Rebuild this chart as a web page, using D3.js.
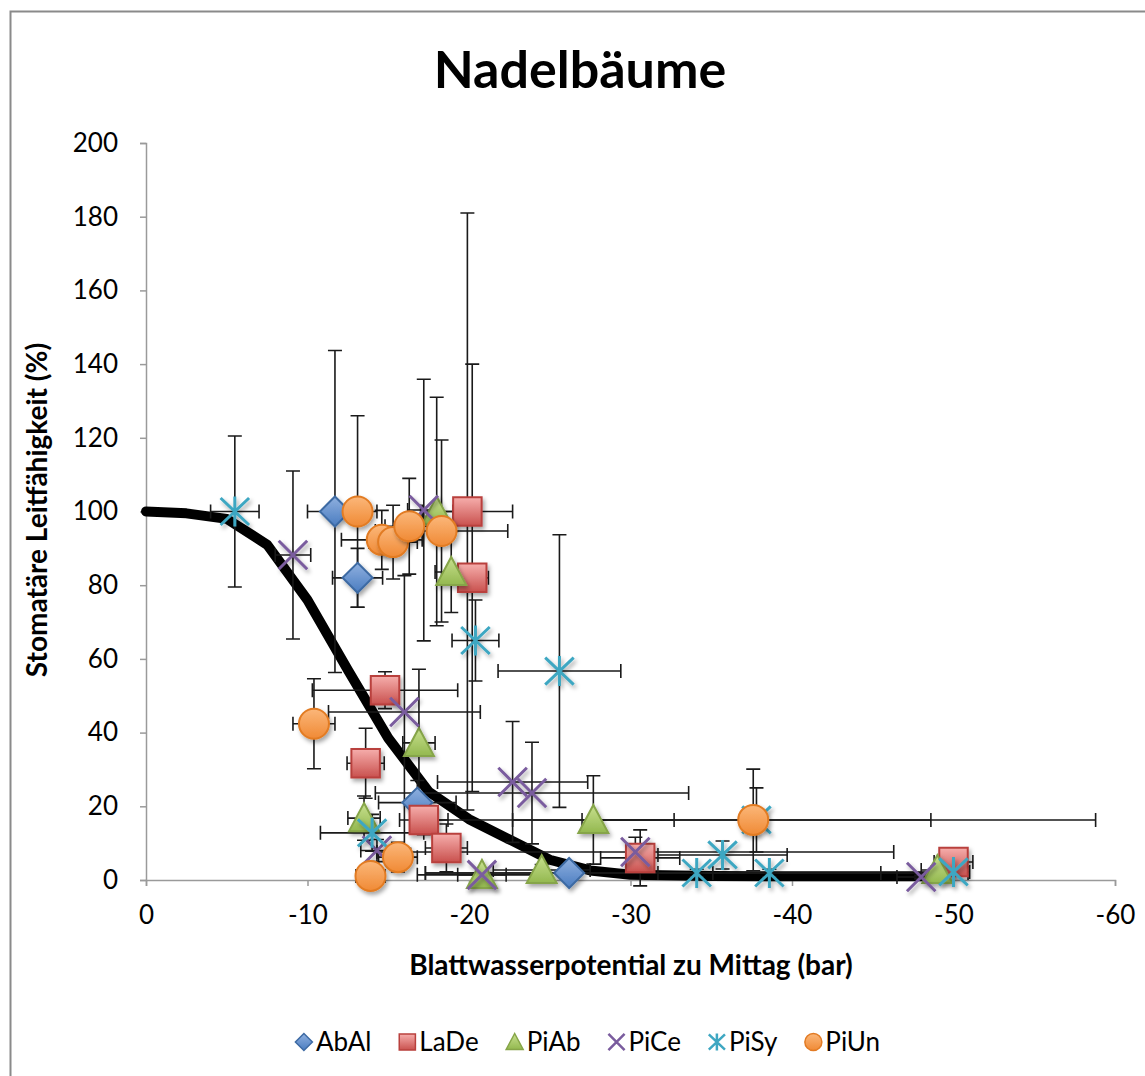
<!DOCTYPE html>
<html>
<head>
<meta charset="utf-8">
<script src="https://cdn.jsdelivr.net/npm/d3@7"></script>
<style>
  body { margin: 0; background: #fff; }
  text { font-family: Lato, "Open Sans", sans-serif; fill: #000; }
</style>
</head>
<body>
<svg id="chart" width="1145" height="1076"></svg>
<script>
// Werte: [x, y, Fehler x, Fehler y]
const abal = [[-11.7, 100, 1.7, 43.7], [-13.1, 82, 1.55, 8], [-16.8, 21, 2.4, 6], [-26.2, 1.9, 8.9, 1.5]];
const lade = [[-19.9, 100, 2.8, 81], [-20.2, 82, 1, 58], [-14.8, 51.5, 4.5, 5], [-13.6, 31.7, 1.15, 9.5],
              [-17.2, 16.3, 1.5, 4], [-18.6, 8.7, 1.3, 6.5], [-30.6, 6, 2.45, 7.6], [-50, 4.9, 1.2, 1]];
const piab = [[-18, 100, 1, 31], [-18.9, 83.6, 1, 11], [-16.9, 37.2, 1, 20], [-13.5, 16.8, 1, 6],
              [-20.8, 1.4, 4, 1], [-24.5, 2.7, 3, 1.5], [-27.7, 16.3, 5, 12], [-49, 2.7, 1, 1]];
const pice = [[-9.1, 88.2, 1.1, 22.8], [-17.2, 100.4, 1, 35.5], [-16, 45.6, 4.7, 37], [-22.7, 26.6, 4.65, 16.4],
              [-23.9, 23.6, 9.7, 13.8], [-20.8, 1.4, 1.5, 1], [-30.3, 7.6, 16, 4], [-48, 0.8, 1.5, 0.5], [-14.3, 8, 1, 3]];
const pisy = [[-5.5, 100, 1.5, 20.5], [-20.4, 65, 1.45, 11], [-25.6, 56.7, 3.8, 37], [-14, 12.8, 3.2, 5],
              [-34.1, 1.9, 16.8, 1], [-35.7, 6.8, 4, 3.8], [-38.6, 1.9, 6.9, 1], [-37.8, 16.3, 10.8, 8.7], [-50, 2.2, 1, 1]];
const piun = [[-13.1, 100, 1.2, 26], [-14.6, 92.3, 2.5, 8], [-15.3, 91.7, 1.5, 10], [-16.3, 96, 1.5, 13],
              [-18.3, 94.7, 4.1, 24.7], [-10.4, 42.4, 1.3, 12.2], [-15.6, 6.2, 1.2, 4], [-13.9, 1.1, 0.9, 1], [-37.6, 16.3, 21.2, 13.8]];

// Ausgleichskurve
const kurveX = [0, -2.5, -5, -7.5, -10, -12.5, -15, -17.5, -20, -22.5, -25, -27.5, -30, -35, -40, -49];
const kurveY = [100, 99.5, 98, 91, 76, 57, 38.5, 24, 16.5, 11, 5.5, 2.6, 1.4, 1.1, 1, 1];

const xTicks = [0, -10, -20, -30, -40, -50, -60];
const yTicks = [0, 20, 40, 60, 80, 100, 120, 140, 160, 180, 200];

const serien = [
  { name: "AbAl", data: abal, form: "diamond", fill: "url(#gBlau)", stroke: "#3d6aa3" },
  { name: "LaDe", data: lade, form: "square", fill: "url(#gRot)", stroke: "#b9413e" },
  { name: "PiAb", data: piab, form: "triangle", fill: "url(#gGruen)", stroke: "#86a548" },
  { name: "PiCe", data: pice, form: "x", fill: "none", stroke: "#7a5c9e" },
  { name: "PiSy", data: pisy, form: "star", fill: "none", stroke: "#3ea7c2" },
  { name: "PiUn", data: piun, form: "circle", fill: "url(#gOrange)", stroke: "#e27b24" }
];

const svg = d3.select("#chart");
const x = d3.scaleLinear().domain([0, -60]).range([146, 1115]);
const y = d3.scaleLinear().domain([0, 200]).range([880, 143]);

// Verläufe und Schatten
const defs = svg.append("defs");
function verlauf(id, hell, dunkel) {
  const g = defs.append("linearGradient").attr("id", id).attr("x1", 0).attr("y1", 0).attr("x2", 0).attr("y2", 1);
  g.append("stop").attr("offset", "0%").attr("stop-color", hell);
  g.append("stop").attr("offset", "100%").attr("stop-color", dunkel);
}
verlauf("gBlau", "#8fb0df", "#4a7cc0");
verlauf("gRot", "#f6aeac", "#c9514e");
verlauf("gGruen", "#c8e08f", "#93b84f");
verlauf("gOrange", "#fbb77a", "#f08a35");
const f = defs.append("filter").attr("id", "schatten").attr("x", "-50%").attr("y", "-50%").attr("width", "200%").attr("height", "200%");
f.append("feDropShadow").attr("dx", 2).attr("dy", 3).attr("stdDeviation", 2.2).attr("flood-color", "#000").attr("flood-opacity", 0.35);

function markerPfad(form, s) {
  switch (form) {
    case "diamond": return `M0,${-s}L${s},0L0,${s}L${-s},0Z`;
    case "square": return `M${-s * 0.95},${-s * 0.95}H${s * 0.95}V${s * 0.95}H${-s * 0.95}Z`;
    case "triangle": return `M0,${-s}L${s},${s * 0.87}L${-s},${s * 0.87}Z`;
    case "x": return `M${-s * 0.95},${-s * 0.95}L${s * 0.95},${s * 0.95}M${s * 0.95},${-s * 0.95}L${-s * 0.95},${s * 0.95}`;
    case "star": return `M${-s * 0.95},${-s * 0.9}L${s * 0.95},${s * 0.9}M${s * 0.95},${-s * 0.9}L${-s * 0.95},${s * 0.9}M0,${-s}L0,${s}`;
    case "circle": return d3.arc()({ innerRadius: 0, outerRadius: s, startAngle: 0, endAngle: 2 * Math.PI });
  }
}

// Rahmen
svg.append("rect").attr("x", 10.5).attr("y", 11.5).attr("width", 1160).attr("height", 1100)
  .attr("fill", "none").attr("stroke", "#8a8a8a").attr("stroke-width", 2);

// Achsen
const yAxis = svg.append("g").attr("transform", "translate(146,0)")
  .call(d3.axisLeft(y).tickValues(yTicks).tickSize(6).tickPadding(22).tickFormat(d => String(d)));
const xAxis = svg.append("g").attr("transform", "translate(0,880)")
  .call(d3.axisBottom(x).tickValues(xTicks).tickSize(6).tickPadding(20).tickFormat(d => String(d)));
[yAxis, xAxis].forEach(a => {
  a.select(".domain").attr("stroke", "#9a9a9a").attr("stroke-width", 1.5);
  a.selectAll(".tick line").attr("stroke", "#9a9a9a").attr("stroke-width", 1.5);
  a.selectAll("text").attr("font-size", 26).attr("font-family", "Lato").attr("fill", "#000");
});

// Kurve
const kurve = kurveX.map((v, i) => [v, kurveY[i]]);
svg.append("path").datum(kurve)
  .attr("d", d3.line().x(d => x(d[0])).y(d => y(d[1])))
  .attr("fill", "none").attr("stroke", "#000").attr("stroke-width", 10)
  .attr("stroke-linejoin", "round").attr("stroke-linecap", "round");

// Fehlerbalken
const fb = svg.append("g").attr("stroke", "#1a1a1a").attr("stroke-width", 1.6).attr("fill", "none");
const kappe = 7;
serien.forEach(s => {
  s.data.forEach(d => {
    const cx = x(d[0]), cy = y(d[1]);
    const x1 = x(d[0] - d[2]), x2 = x(d[0] + d[2]);
    const y1 = y(d[1] - d[3]), y2 = y(d[1] + d[3]);
    fb.append("path").attr("d",
      `M${x1},${cy}H${x2}M${x1},${cy - kappe}V${cy + kappe}M${x2},${cy - kappe}V${cy + kappe}` +
      `M${cx},${y1}V${y2}M${cx - kappe},${y1}H${cx + kappe}M${cx - kappe},${y2}H${cx + kappe}`);
  });
});

// Marker
serien.forEach(s => {
  const linie = s.form === "x" || s.form === "star";
  svg.append("g").selectAll("path").data(s.data).join("path")
    .attr("transform", d => `translate(${x(d[0])},${y(d[1])})`)
    .attr("d", markerPfad(s.form, 15))
    .attr("fill", s.fill)
    .attr("stroke", s.stroke)
    .attr("stroke-width", linie ? 3 : 2)
    .attr("filter", "url(#schatten)");
});

// Titel
svg.append("text").attr("x", 580).attr("y", 88).attr("text-anchor", "middle")
  .attr("font-size", 52).attr("font-weight", "bold").text("Nadelbäume");
svg.append("text").attr("transform", "translate(47,510) rotate(-90)").attr("text-anchor", "middle")
  .attr("font-size", 28).attr("font-weight", "bold").text("Stomatäre Leitfähigkeit (%)");
svg.append("text").attr("x", 631).attr("y", 975).attr("text-anchor", "middle")
  .attr("font-size", 28).attr("font-weight", "bold").text("Blattwasserpotential zu Mittag (bar)");

// Legende
const leg = svg.append("g");
let lx = 0;
serien.forEach(s => {
  const linie = s.form === "x" || s.form === "star";
  const g = leg.append("g").attr("transform", `translate(${lx},0)`);
  g.append("path").attr("transform", "translate(8,0)").attr("d", markerPfad(s.form, 8.5))
    .attr("fill", s.fill).attr("stroke", s.stroke).attr("stroke-width", linie ? 2.5 : 1.5);
  const t = g.append("text").attr("x", 20).attr("y", 9).attr("font-size", 26).text(s.name);
  lx += 20 + t.node().getComputedTextLength() + 28;
});
const lw = lx - 28;
leg.attr("transform", `translate(${588 - lw / 2},1042)`);
</script>
</body>
</html>
